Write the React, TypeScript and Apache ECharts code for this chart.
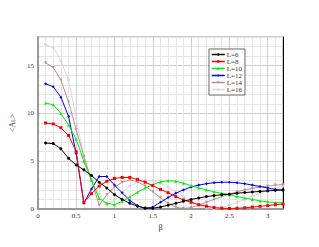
import React, { useEffect, useRef } from "react";
import * as echarts from "echarts";

const betas = [0.1, 0.2, 0.3, 0.4, 0.5, 0.6, 0.7, 0.8, 0.9, 1.0, 1.1, 1.2, 1.3, 1.4, 1.5, 1.6, 1.7, 1.8, 1.9, 2.0, 2.1, 2.2, 2.3, 2.4, 2.5, 2.6, 2.7, 2.8, 2.9, 3.0, 3.1, 3.2];
const seriesNames = ["L=6", "L=8", "L=10", "L=12", "L=14", "L=16"];
const L6 = [6.9, 6.85, 6.3, 5.3, 4.6, 4.1, 3.5, 2.8, 2.2, 1.5, 1.0, 0.6, 0.3, 0.1, 0.08, 0.2, 0.4, 0.6, 0.8, 1.0, 1.15, 1.3, 1.4, 1.5, 1.55, 1.65, 1.72, 1.78, 1.84, 1.9, 1.95, 2.0];
const L8 = [9.0, 8.9, 8.5, 7.7, 6.0, 0.7, 1.6, 2.4, 2.9, 3.2, 3.3, 3.3, 3.1, 2.8, 2.45, 2.05, 1.7, 1.3, 0.95, 0.7, 0.45, 0.3, 0.15, 0.08, 0.05, 0.08, 0.12, 0.2, 0.28, 0.35, 0.45, 0.52];
const L10 = [11.1, 10.9, 10.0, 8.8, 7.3, 5.0, 3.0, 1.1, 0.6, 0.45, 0.8, 1.25, 1.75, 2.2, 2.55, 2.85, 2.95, 2.9, 2.7, 2.45, 2.2, 2.0, 1.8, 1.65, 1.5, 1.3, 1.15, 1.0, 0.85, 0.75, 0.68, 0.62];
const L12 = [13.1, 12.8, 11.7, 9.7, 5.8, 0.6, 2.1, 3.4, 3.4, 2.5, 1.7, 0.9, 0.35, 0.05, 0.2, 0.7, 1.2, 1.65, 2.0, 2.3, 2.5, 2.65, 2.75, 2.8, 2.8, 2.75, 2.65, 2.5, 2.35, 2.2, 2.05, 1.95];
const L14 = [15.3, 14.8, 13.5, 11.2, 8.3, 5.5, 3.0, 0.4, 1.5, 2.3, 2.8, 3.05, 2.85, 2.4, 1.8, 1.2, 0.6, 0.2, 0.05, 0.15, 0.4, 0.7, 1.0, 1.3, 1.55, 1.8, 2.0, 2.15, 2.3, 2.4, 2.5, 2.55];
const L16 = [17.2, 16.9, 15.5, 13.5, 9.5, 5.5, 3.0, 1.5, 0.4, 0.9, 1.7, 2.4, 2.8, 3.0, 2.95, 2.7, 2.3, 1.8, 1.3, 0.8, 0.4, 0.15, 0.05, 0.15, 0.4, 0.7, 1.0, 1.35, 1.65, 1.95, 2.2, 2.4];
const allValues = [L6, L8, L10, L12, L14, L16];
const colors = ["#000000", "#ff0000", "#00ee00", "#0000ff", "#bc8f8f", "#d8d8d8"];
const symbols = ["circle", "rect", "triangle", "diamond", "triangle", "circle"];

const FONT = "'Liberation Serif', 'DejaVu Serif', serif";

export default function App() {
  const ref = useRef<HTMLDivElement>(null);
  useEffect(() => {
    if (!ref.current) return;
    const chart = echarts.init(ref.current, null, { renderer: "svg" });
    const series = seriesNames.map((name, i) => ({
      name,
      type: "line",
      data: betas.map((b, j) => [b, allValues[i][j]]),
      symbol: symbols[i],
      symbolSize: 3,
      symbolRotate: i === 4 ? 180 : 0,
      showSymbol: true,
      lineStyle: { color: colors[i], width: 1 },
      itemStyle: { color: colors[i] },
      z: 10 - i,
    }));
    chart.setOption({
      animation: false,
      backgroundColor: "#ffffff",
      grid: {
        left: 37,
        top: 37,
        right: 36,
        bottom: 38,
        show: true,
        borderColor: "#999",
        borderWidth: 1,
      },
      legend: {
        data: seriesNames.map((name, i) => ({
          name,
          lineStyle: { color: colors[i], width: 1.5 },
          itemStyle: { color: colors[i], borderWidth: 0 },
        })),
        orient: "vertical",
        left: 209,
        top: 49,
        itemWidth: 13,
        itemHeight: 3,
        itemGap: 0,
        padding: [2, 3, 2, 2],
        borderColor: "#666",
        borderWidth: 1,
        backgroundColor: "#fff",
        textStyle: { fontFamily: FONT, fontSize: 7, lineHeight: 7, color: "#333", padding: [0, 0, 0, -3] },
      },
      xAxis: {
        type: "value",
        min: 0,
        max: 3.2,
        interval: 0.1,
        name: "β",
        nameLocation: "middle",
        nameGap: 7,
        nameTextStyle: { fontFamily: FONT, fontSize: 8, color: "#333" },
        axisLine: { show: true, lineStyle: { color: "#999", width: 2 } },
        axisTick: { show: false },
        axisLabel: {
          fontFamily: FONT,
          fontSize: 7,
          color: "#333",
          margin: 3,
          formatter: (v: number) => (Math.abs(v * 2 - Math.round(v * 2)) < 1e-6 ? String(Math.round(v * 2) / 2) : ""),
        },
        splitLine: {
          show: true,
          lineStyle: { color: ["#cfcfcf", "#e6e6e6", "#e6e6e6", "#e6e6e6", "#e6e6e6"], width: 1 },
        },
      },
      yAxis: [
        {
          type: "value",
          min: 0,
          max: 18,
          interval: 1,
          name: "<A{s|L}>",
          nameLocation: "middle",
          nameGap: 9,
          nameTextStyle: {
            fontFamily: FONT,
            fontSize: 8,
            color: "#333",
            rich: { s: { fontFamily: FONT, fontSize: 6, color: "#333", verticalAlign: "bottom" } },
          },
          axisLine: { show: true, lineStyle: { color: "#999", width: 2 } },
          axisTick: { show: false },
          axisLabel: {
            fontFamily: FONT,
            fontSize: 7,
            color: "#333",
            margin: 4,
            formatter: (v: number) => (Math.round(v) % 5 === 0 ? String(Math.round(v)) : ""),
          },
          splitLine: {
            show: true,
            lineStyle: { color: ["#cfcfcf", "#e6e6e6", "#e6e6e6", "#e6e6e6", "#e6e6e6"], width: 1 },
          },
        },
        {
          type: "value",
          min: 0,
          max: 18,
          position: "right",
          axisLine: { show: true, lineStyle: { color: "#000", width: 1 } },
          axisTick: { show: false },
          axisLabel: { show: false },
          splitLine: { show: false },
        },
      ],
      series,
    });
    return () => chart.dispose();
  }, []);
  return <div ref={ref} style={{ width: 319, height: 247, position: "absolute", left: 0, top: 0 }} />;
}
